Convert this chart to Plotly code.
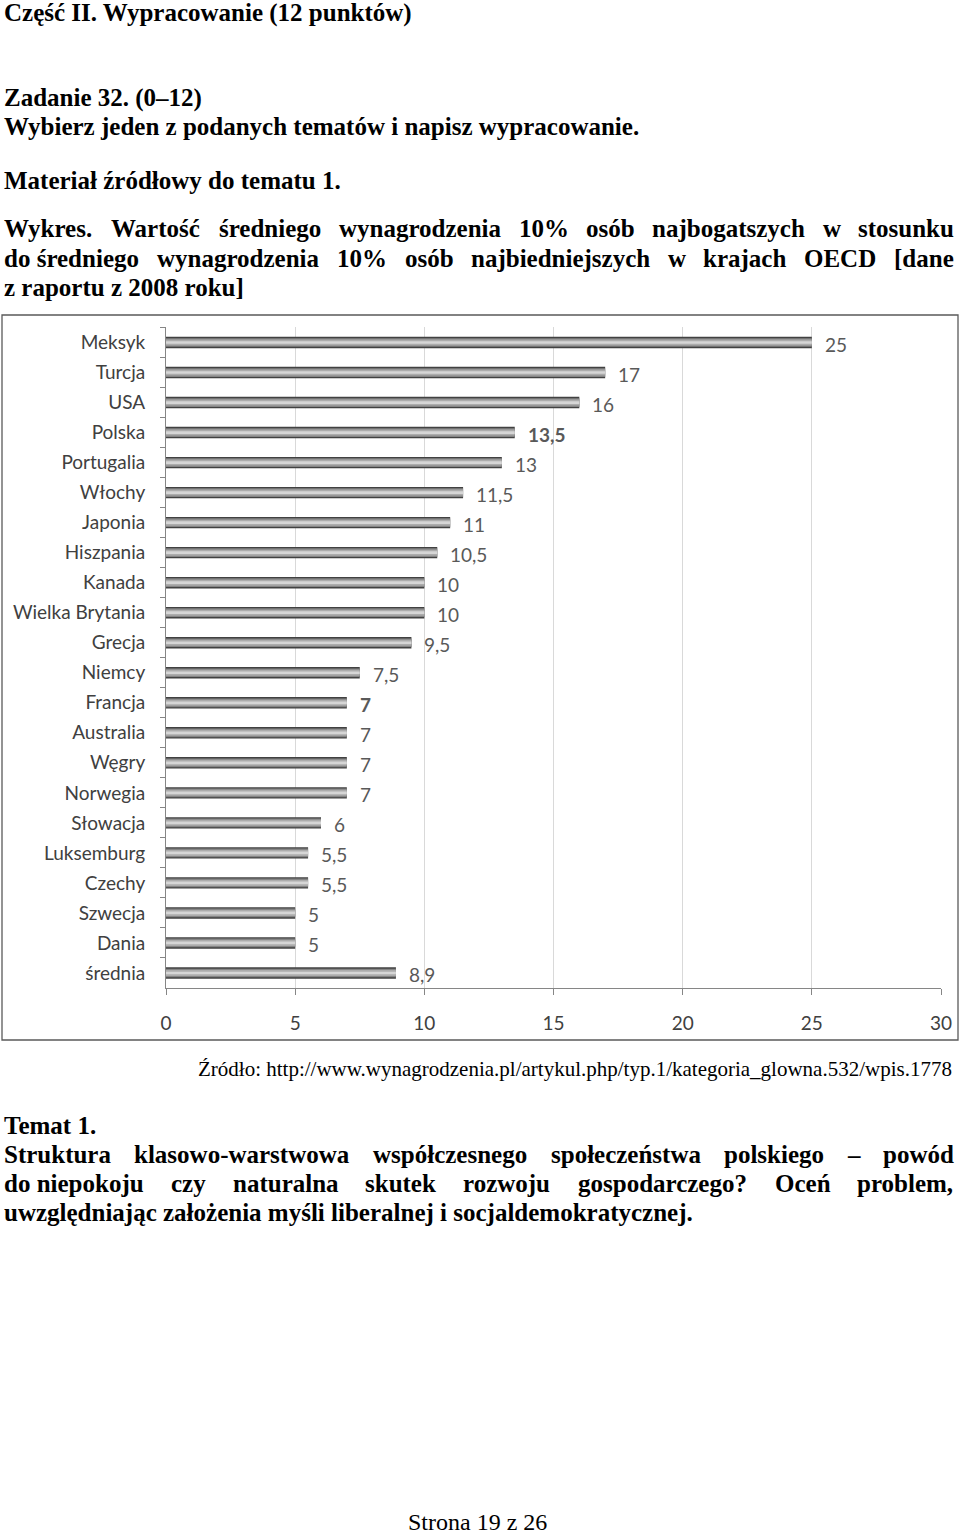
import plotly.graph_objects as go

kraje = ["Meksyk", "Turcja", "USA", "Polska", "Portugalia", "Włochy", "Japonia",
         "Hiszpania", "Kanada", "Wielka Brytania", "Grecja", "Niemcy", "Francja",
         "Australia", "Węgry", "Norwegia", "Słowacja", "Luksemburg", "Czechy",
         "Szwecja", "Dania", "średnia"]
wartosci = [25, 17, 16, 13.5, 13, 11.5, 11, 10.5, 10, 10, 9.5, 7.5, 7, 7, 7, 7,
            6, 5.5, 5.5, 5, 5, 8.9]
pogrubione = ["Polska", "Francja"]
x_ticks = [0, 5, 10, 15, 20, 25, 30]

W, H = 960, 1537
SERIF = "Liberation Serif"

# szerokosci znakow Times Bold (1/1000 em) - do justowania tekstu
SZER = {}
for znaki, w in [(" ,.", 250), ("ilł/", 278), ("fjt()[]-:!", 333), ("sśI", 389),
                 ("cćeęrzźż", 444), ("aągoóvxy0123456789?–J", 500),
                 ("bdhknńpquS", 556), ("FP", 611), ("BELTZŹŻ", 667),
                 ("wCDNRUVXYA", 722), ("GHKOQ", 778), ("m", 833), ("M", 944),
                 ("W%—", 1000)]:
    for c in znaki:
        SZER[c] = w


def szer(slowo, size):
    return sum(SZER.get(c, 500) for c in slowo) * size / 1000


def px(x):
    return x / W


def py(y):
    return 1 - y / H


adnotacje = []


def linia(tekst, y, size=25, bold=True, x=3, anchor="left"):
    t = f"<b>{tekst}</b>" if bold else tekst
    adnotacje.append(dict(text=t, x=px(x), y=py(y), xref="paper", yref="paper",
                          xanchor=anchor, yanchor="middle", showarrow=False,
                          borderpad=0,
                          font=dict(family=SERIF, size=size, color="black")))


def justuj(slowa, y, size=25, x0=3, x1=953):
    total = sum(szer(s, size) for s in slowa)
    odstep = (x1 - x0 - total) / (len(slowa) - 1)
    x = x0
    for s in slowa:
        linia(s, y, size=size, x=x)
        x += szer(s, size) + odstep


linia("Część II. Wypracowanie (12 punktów)", 13)
linia("Zadanie 32. (0–12)", 98)
linia("Wybierz jeden z podanych tematów i napisz wypracowanie.", 126)
linia("Materiał źródłowy do tematu 1.", 181)
justuj("Wykres. Wartość średniego wynagrodzenia 10% osób najbogatszych w stosunku".split(), 228)
justuj(["do średniego", "wynagrodzenia", "10%", "osób", "najbiedniejszych", "w",
        "krajach", "OECD", "[dane"], 258)
linia("z raportu z 2008 roku]", 287)
linia("Źródło: http://www.wynagrodzenia.pl/artykul.php/typ.1/kategoria_glowna.532/wpis.1778",
      1069, size=21, bold=False, x=953, anchor="right")
linia("Temat 1.", 1125)
justuj("Struktura klasowo-warstwowa współczesnego społeczeństwa polskiego – powód".split(), 1154)
justuj(["do niepokoju", "czy", "naturalna", "skutek", "rozwoju", "gospodarczego?",
        "Oceń", "problem,"], 1183)
linia("uwzględniając założenia myśli liberalnej i socjaldemokratycznej.", 1212)
linia("Strona 19 z 26", 1522, size=24, bold=False, x=477, anchor="center")

# etykiety wartosci przy slupkach
for k, v in zip(kraje, wartosci):
    t = f"{v:g}".replace(".", ",")
    if k in pogrubione:
        t = f"<b>{t}</b>"
    adnotacje.append(dict(text=t, x=v, y=k, xref="x", yref="y", xanchor="left",
                          xshift=11, yshift=-2, showarrow=False,
                          font=dict(family="Lato", size=19, color="#595959")))

fig = go.Figure()
# slupki "cylindryczne" - kilka nalozonych warstw szarosci
for szer_sl, kolor in [(0.38, "#414141"), (0.29, "#858585"), (0.2, "#acacac"),
                       (0.09, "#d6d6d6")]:
    fig.add_trace(go.Bar(x=wartosci, y=kraje, orientation="h", width=szer_sl,
                         marker=dict(color=kolor, line=dict(width=0)),
                         hoverinfo="skip"))

fig.update_layout(
    width=W, height=H, barmode="overlay", showlegend=False,
    margin=dict(l=0, r=0, t=0, b=0),
    paper_bgcolor="white", plot_bgcolor="white",
    annotations=adnotacje,
    shapes=[dict(type="rect", xref="paper", yref="paper",
                 x0=px(2), x1=px(958), y0=py(1040), y1=py(315),
                 line=dict(color="#5a5a5a", width=1.3))],
)
fig.update_xaxes(domain=[px(166), px(941)], range=[0, 30], tickvals=x_ticks,
                 automargin=False,
                 showgrid=True, gridcolor="#d9d9d9", zeroline=False,
                 showline=True, linecolor="#868686", ticks="outside", ticklen=6,
                 tickcolor="#868686", ticklabelstandoff=12,
                 tickfont=dict(family="Lato", size=19, color="#404040"))
fig.update_yaxes(domain=[py(988), py(327)], type="category", autorange="reversed",
                 automargin=False,
                 tickson="boundaries", ticks="outside", ticklen=5,
                 tickcolor="#868686", showline=True, linecolor="#868686",
                 showgrid=False, ticklabelstandoff=16,
                 tickfont=dict(family="Lato", size=19, color="#404040"))

fig.write_html("out.html", config={"displayModeBar": False},
               post_script="document.body.style.margin='0';"
                           "document.body.style.overflow='hidden';")
